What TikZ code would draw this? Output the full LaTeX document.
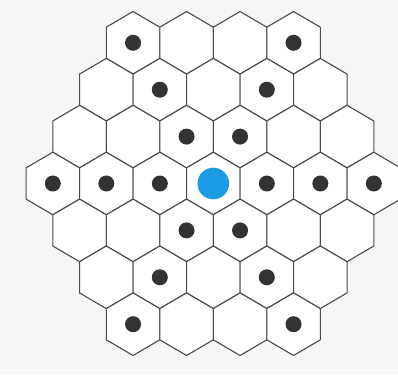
\documentclass[tikz,border=0pt]{standalone}
\definecolor{bgcol}{HTML}{F4F6F8}
\definecolor{linecol}{HTML}{4A4A4A}
\definecolor{dotcol}{HTML}{333333}
\definecolor{bluecol}{HTML}{1B9BE4}
\begin{document}
\begin{tikzpicture}[x=1pt,y=-1pt,
  hexline/.style={draw=linecol,line width=1.1pt,fill=white,line join=round},
  blackdot/.style={fill=dotcol},
  bluedot/.style={fill=bluecol}]
\useasboundingbox (0,0) rectangle (398,374);
\fill[bgcol] (0,0) rectangle (398,374);
\foreach \r/\n in {-3/4,-2/5,-1/6,0/7,1/6,2/5,3/4}{
  \foreach \i in {1,...,\n}{
    \pgfmathsetmacro\hx{213.3+(\i-(\n+1)/2)*53.5}
    \pgfmathsetmacro\hy{183.5+\r*46.9}
    \draw[hexline] (\hx,\hy) +(0,-31.3) -- +(26.75,-15.6) -- +(26.75,15.6)
      -- +(0,31.3) -- +(-26.75,15.6) -- +(-26.75,-15.6) -- cycle;
  }
}
\foreach \r/\n/\d in {-3/4/{1,4},-2/5/{2,4},-1/6/{3,4},0/7/{1,2,3,5,6,7},1/6/{3,4},2/5/{2,4},3/4/{1,4}}{
  \foreach \i in \d{
    \pgfmathsetmacro\hx{213.3+(\i-(\n+1)/2)*53.5}
    \pgfmathsetmacro\hy{183.5+\r*46.9}
    \fill[blackdot] (\hx,\hy) circle (8);
  }
}
\fill[bluedot] (213.3,183.5) circle (15.8);
\end{tikzpicture}
\end{document}
